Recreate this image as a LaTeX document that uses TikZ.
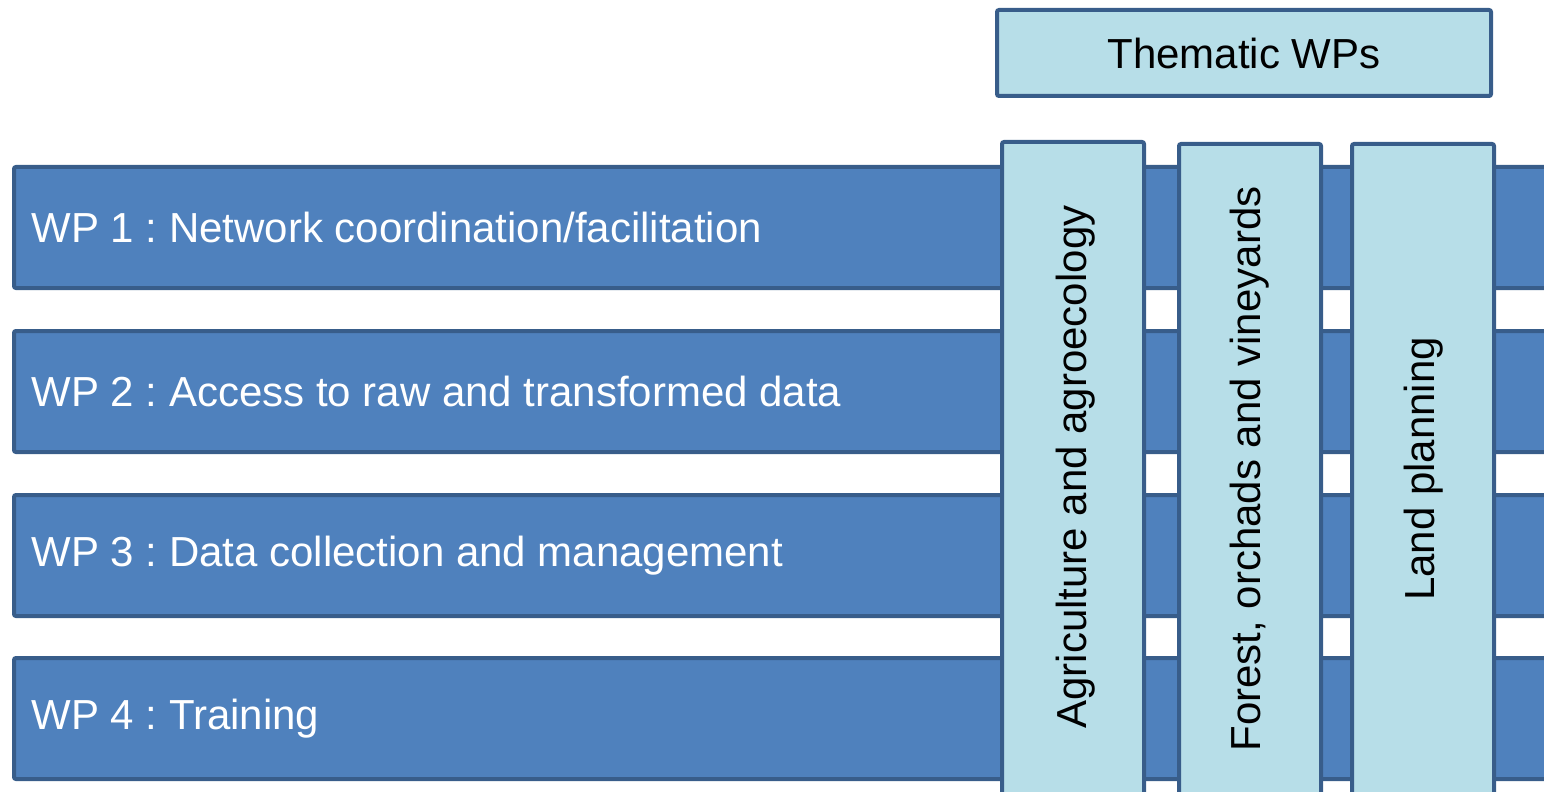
\documentclass[tikz,border=0pt]{standalone}
\usepackage{fontspec}
\setmainfont{Liberation Sans}
\usepackage{tikz}
\usetikzlibrary{positioning}
\definecolor{wpdark}{HTML}{4F81BD}
\definecolor{wpline}{HTML}{385D8A}
\definecolor{wplight}{HTML}{B7DEE8}
\frenchspacing

\begin{document}
\begin{tikzpicture}[x=0.5pt,y=-0.5pt,
        wpbar/.style={draw=wpline,fill=wpdark,line width=2pt,rounded corners=1pt,
                      minimum width=774pt,minimum height=60.5pt,inner sep=0pt,anchor=north west},
        wplabel/.style={text=white,font=\fontsize{21}{25}\selectfont,inner sep=0pt,anchor=west},
        thembox/.style={draw=wpline,fill=wplight,line width=2pt,rounded corners=1pt,
                        minimum width=71pt,minimum height=330pt,inner sep=0pt,anchor=north west},
        themtext/.style={font=\fontsize{21}{25}\selectfont,rotate=90}]
        \useasboundingbox (0,0) rectangle (1544,792);
        \clip (0,0) rectangle (1544,792);
        % horizontal work packages
        \node[wpbar] (b1) at (12,165) {};
        \node[wpbar] (b2) at (12,329) {};
        \node[wpbar] (b3) at (12,493) {};
        \node[wpbar] (b4) at (12,656) {};
        \node[wplabel, right=9.5pt of b1.west] (l1) {WP 1 : Network coordination/facilitation};
        \node[wplabel, right=9.5pt of b2.west] (l2) {WP 2 : Access to raw and transformed data};
        \node[wplabel, right=9.5pt of b3.west] (l3) {WP 3 : Data collection and management};
        \node[wplabel, right=9.5pt of b4.west] (l4) {WP 4 : Training};
        % thematic columns
        \node[thembox] (c1) at (1000,140) {};
        \node[thembox] (c2) at (1177,142) {};
        \node[thembox] (c3) at (1350,142) {};
        \node[themtext] at (1076,467) {Agriculture and agroecology};
        \node[themtext] at (1250,469) {Forest, orchads and vineyards};
        \node[themtext] at (1424,469) {Land planning};
        \node[draw=wpline,fill=wplight,line width=2pt,rounded corners=1pt,
              minimum width=247pt,minimum height=43pt,anchor=north west,
              font=\fontsize{21}{25}\selectfont] (top) at (995,8) {Thematic WPs};
\end{tikzpicture}
\end{document}
